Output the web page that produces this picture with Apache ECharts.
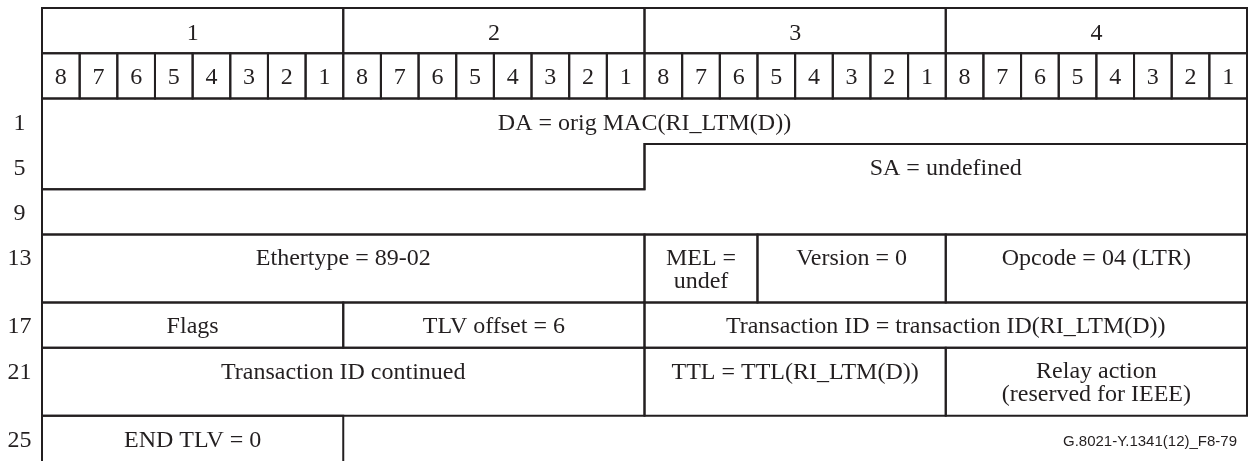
<!DOCTYPE html>
<html>
<head>
<meta charset="utf-8">
<script src="https://cdn.jsdelivr.net/npm/echarts@6/dist/echarts.min.js"></script>
<style>
  html, body { margin: 0; padding: 0; background: #ffffff; }
  #chart { width: 1250px; height: 461px; }
</style>
</head>
<body>
<div id="chart"></div>
<script>
// ---- Data ----
var byteLabels = ['1', '2', '3', '4'];
var bitLabels = ['8', '7', '6', '5', '4', '3', '2', '1'];
var rowOffsets = ['1', '5', '9', '13', '17', '21', '25'];
var fieldLabels = [
  'DA = orig MAC(RI_LTM(D))',
  'SA = undefined',
  'Ethertype = 89-02',
  'MEL =\nundef',
  'Version = 0',
  'Opcode = 04 (LTR)',
  'Flags',
  'TLV offset = 6',
  'Transaction ID = transaction ID(RI_LTM(D))',
  'Transaction ID continued',
  'TTL = TTL(RI_LTM(D))',
  'Relay action\n(reserved for IEEE)',
  'END TLV = 0'
];
var fieldStartBits = [0, 48, 96, 112, 115, 120, 128, 136, 144, 160, 176, 184, 192];
var fieldLengthBits = [48, 48, 16, 3, 5, 8, 8, 8, 16, 16, 8, 8, 8];
var footerText = 'G.8021-Y.1341(12)_F8-79';

// ---- Layout (row geometry in axis units) ----
var wordTop = [2, 3, 4, 5, 6.5, 7.5, 9];
var wordHeight = [1, 1, 1, 1.5, 1, 1.5, 1.1];
var INK = '#231f20';
var SERIF = "'Liberation Serif', 'Times New Roman', serif";
var FS = 24;
var LW = 2;
var DY = 2;

function textEl(x, y, str, multi) {
  return {
    type: 'text',
    x: x, y: y,
    style: {
      text: str,
      x: 0, y: 0,
      align: 'center',
      verticalAlign: 'middle',
      fill: INK,
      font: FS + 'px ' + SERIF,
      lineHeight: multi ? 23 : FS
    }
  };
}

function rectEl(p0, p1) {
  return {
    type: 'rect',
    shape: { x: p0[0], y: p0[1], width: p1[0] - p0[0], height: p1[1] - p0[1] },
    style: { fill: null, stroke: INK, lineWidth: LW }
  };
}

var byteData = byteLabels.map(function (l, i) { return [i * 8, 0]; });
var bitData = [];
for (var b = 0; b < 32; b++) bitData.push([b, 1]);
var rowData = rowOffsets.map(function (l, i) { return [-0.6, wordTop[i]]; });
var fieldData = fieldStartBits.map(function (s, i) { return [s, fieldLengthBits[i]]; });

var option = {
  animation: false,
  backgroundColor: '#ffffff',
  grid: { left: 42, right: 3, top: 8, height: 453 },
  xAxis: { type: 'value', min: 0, max: 32, show: false },
  yAxis: { type: 'value', min: 0, max: 10, inverse: true, show: false },
  graphic: [{
    type: 'text',
    right: 13, top: 434,
    style: {
      text: footerText,
      fill: INK,
      font: "15px 'Liberation Sans', Arial, sans-serif"
    }
  }],
  series: [
    {
      type: 'custom',
      data: byteData,
      clip: false,
      renderItem: function (params, api) {
        var x0 = api.value(0), y0 = api.value(1);
        var p0 = api.coord([x0, y0]), p1 = api.coord([x0 + 8, y0 + 1]);
        return {
          type: 'group',
          children: [
            rectEl(p0, p1),
            textEl((p0[0] + p1[0]) / 2, (p0[1] + p1[1]) / 2 + 3, byteLabels[params.dataIndex])
          ]
        };
      }
    },
    {
      type: 'custom',
      data: bitData,
      clip: false,
      renderItem: function (params, api) {
        var x0 = api.value(0), y0 = api.value(1);
        var p0 = api.coord([x0, y0]), p1 = api.coord([x0 + 1, y0 + 1]);
        return {
          type: 'group',
          children: [
            rectEl(p0, p1),
            textEl((p0[0] + p1[0]) / 2, (p0[1] + p1[1]) / 2 + 2, bitLabels[params.dataIndex % 8])
          ]
        };
      }
    },
    {
      type: 'custom',
      data: rowData,
      clip: false,
      renderItem: function (params, api) {
        var p = api.coord([api.value(0), api.value(1) + 0.5]);
        return textEl(p[0], p[1] + DY, rowOffsets[params.dataIndex]);
      }
    },
    {
      type: 'custom',
      data: fieldData,
      clip: false,
      renderItem: function (params, api) {
        var s = api.value(0), len = api.value(1);
        var e = s + len;
        var ws = Math.floor(s / 32), xs = s % 32;
        var we = Math.floor((e - 1) / 32), xe = (e - 1) % 32 + 1;
        var T = function (w) { return wordTop[w]; };
        var B = function (w) { return wordTop[w] + wordHeight[w]; };
        var pts, tx;
        if (ws === we) {
          pts = [[xs, T(ws)], [xe, T(ws)], [xe, B(ws)], [xs, B(ws)]];
          tx = (xs + xe) / 2;
        } else {
          pts = [[xs, T(ws)], [32, T(ws)], [32, T(we)], [xe, T(we)], [xe, B(we)],
                 [0, B(we)], [0, B(ws)], [xs, B(ws)]];
          tx = (xs + 32) / 2;
        }
        var px = pts.map(function (p) { return api.coord(p); });
        var label = fieldLabels[params.dataIndex];
        var multi = label.indexOf('\n') >= 0;
        var tp = api.coord([tx, T(ws) + 0.5]);
        return {
          type: 'group',
          children: [
            {
              type: 'polygon',
              shape: { points: px },
              style: { fill: null, stroke: INK, lineWidth: LW }
            },
            textEl(tp[0], tp[1] + DY + (multi ? 11 : 0), label, multi)
          ]
        };
      }
    }
  ]
};

var chart = echarts.init(document.getElementById('chart'), null, { renderer: 'canvas' });
chart.setOption(option);
</script>
</body>
</html>
